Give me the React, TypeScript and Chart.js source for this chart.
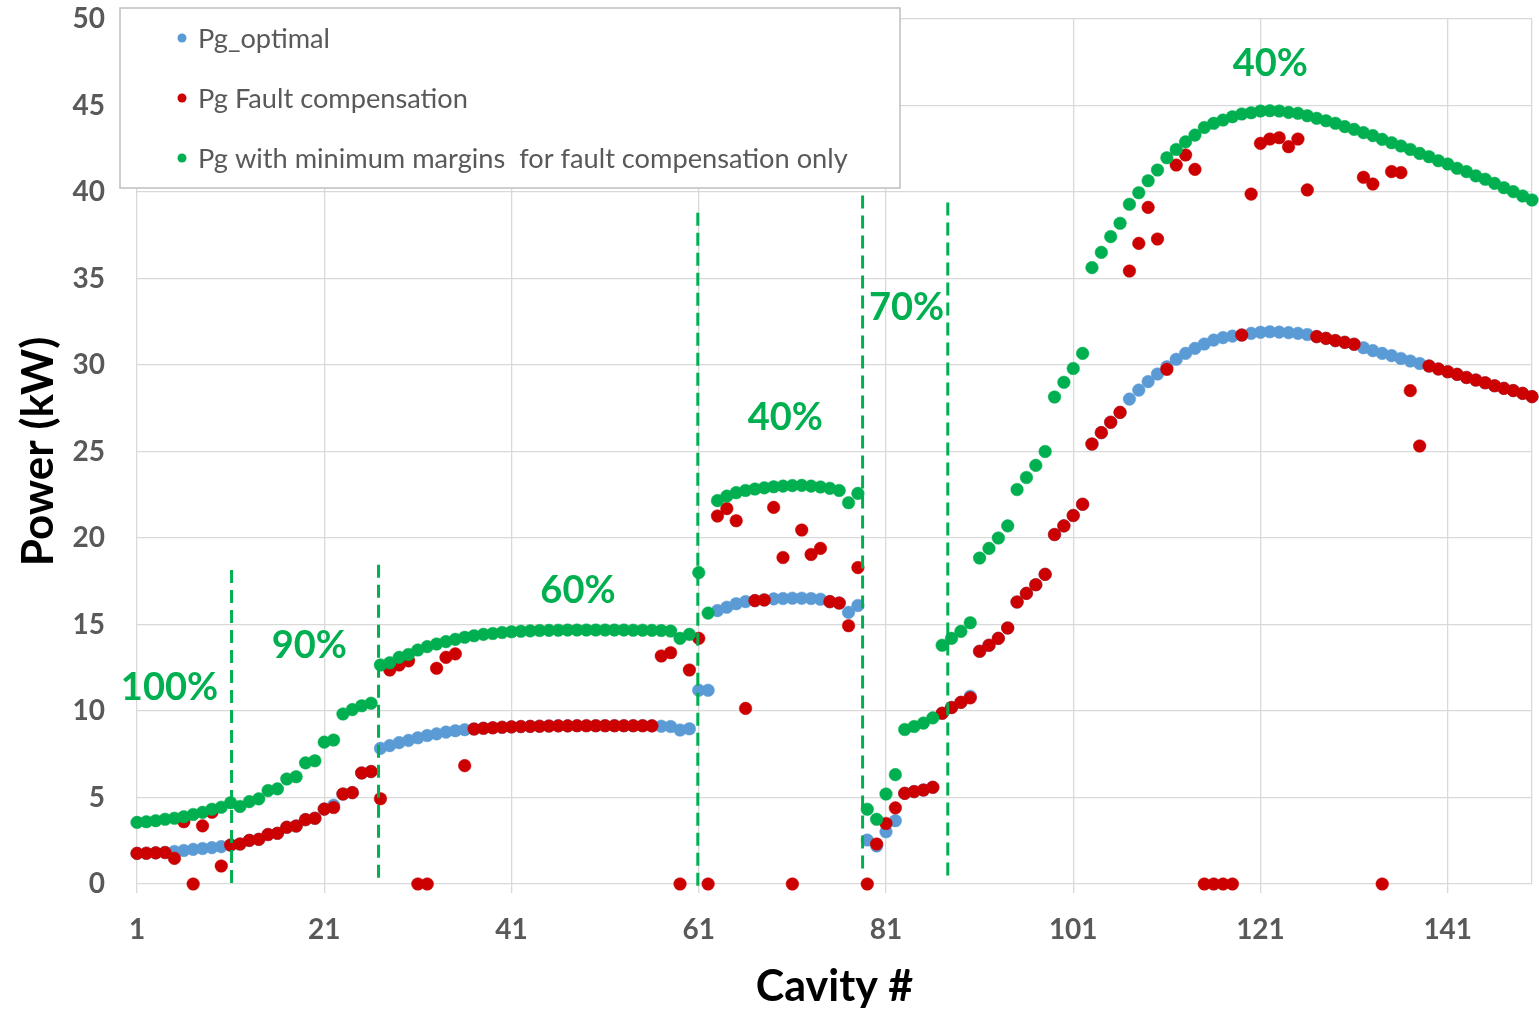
import React, { useEffect, useRef } from "react";
import { Chart, registerables } from "chart.js";

Chart.register(...registerables);

// ---------------- data ----------------
const CAVITY: number[] = Array.from({ length: 150 }, (_, i) => i + 1);

const X_TICKS = [1, 21, 41, 61, 81, 101, 121, 141, 150];

const PG_OPTIMAL = [
  1.77, 1.78, 1.8, 1.82, 1.88, 1.94, 2.0, 2.05, 2.1, 2.16,
  2.25, 2.31, 2.52, 2.58, 2.86, 2.93, 3.28, 3.35, 3.72, 3.8,
  4.33, 4.55, 5.2, 5.28, 6.42, 6.5, 7.84, 8.0, 8.17, 8.3,
  8.45, 8.58, 8.68, 8.78, 8.86, 8.92, 8.96, 9.0, 9.03, 9.06,
  9.08, 9.1, 9.11, 9.12, 9.13, 9.14, 9.14, 9.15, 9.15, 9.15,
  9.15, 9.15, 9.15, 9.15, 9.15, 9.14, 9.12, 9.1, 8.9, 8.97,
  11.2, 11.2, 15.8, 16.0, 16.2, 16.32, 16.38, 16.42, 16.48, 16.5,
  16.52, 16.52, 16.5, 16.46, 16.32, 16.24, 15.7, 16.1, 2.54, 2.2,
  3.02, 3.66, 5.24, 5.34, 5.43, 5.59, 9.87, 10.2, 10.5, 10.85,
  13.45, 13.8, 14.2, 14.8, 16.3, 16.8, 17.3, 17.9, 20.2, 20.7,
  21.3, 21.95, 25.43, 26.09, 26.69, 27.26, 28.03, 28.55, 29.04, 29.48,
  29.9, 30.33, 30.67, 30.96, 31.21, 31.44, 31.58, 31.67, 31.73, 31.83,
  31.89, 31.92, 31.9, 31.87, 31.83, 31.76, 31.64, 31.54, 31.41, 31.31,
  31.2, 31.0, 30.83, 30.67, 30.54, 30.38, 30.23, 30.09, 29.94, 29.77,
  29.61, 29.46, 29.28, 29.13, 28.97, 28.8, 28.65, 28.52, 28.36, 28.17,
];

const PG_FAULT = [
  1.77, 1.78, 1.8, 1.82, 1.48, 3.6, 0, 3.36, 4.15, 1.04,
  2.25, 2.31, 2.52, 2.58, 2.86, 2.93, 3.28, 3.35, 3.72, 3.8,
  4.33, 4.42, 5.2, 5.28, 6.42, 6.5, 4.93, 12.37, 12.66, 12.9,
  0, 0, 12.47, 13.1, 13.3, 6.84, 8.96, 9.0, 9.03, 9.06,
  9.08, 9.1, 9.11, 9.12, 9.13, 9.14, 9.14, 9.15, 9.15, 9.15,
  9.15, 9.15, 9.15, 9.15, 9.15, 9.14, 13.18, 13.37, 0, 12.37,
  14.2, 0, 21.27, 21.7, 21.0, 10.15, 16.38, 16.42, 21.77, 18.87,
  0, 20.46, 19.05, 19.4, 16.32, 16.24, 14.93, 18.29, 0, 2.31,
  3.5, 4.4, 5.24, 5.34, 5.43, 5.59, 9.87, 10.2, 10.5, 10.76,
  13.45, 13.8, 14.2, 14.8, 16.3, 16.8, 17.3, 17.9, 20.2, 20.7,
  21.3, 21.95, 25.43, 26.09, 26.69, 27.26, 35.43, 37.03, 39.11, 37.28,
  29.75, 41.56, 42.14, 41.31, 0, 0, 0, 0, 31.73, 39.88,
  42.81, 43.06, 43.14, 42.62, 43.06, 40.12, 31.64, 31.54, 31.41, 31.31,
  31.2, 40.85, 40.46, 0, 41.18, 41.12, 28.52, 25.32, 29.94, 29.77,
  29.61, 29.46, 29.28, 29.13, 28.97, 28.8, 28.65, 28.52, 28.36, 28.17,
];

const PG_MARGIN = [
  3.56, 3.6, 3.66, 3.74, 3.8, 3.89, 4.02, 4.14, 4.32, 4.44,
  4.7, 4.48, 4.76, 4.92, 5.4, 5.5, 6.07, 6.2, 7.0, 7.12,
  8.2, 8.32, 9.83, 10.08, 10.3, 10.45, 12.66, 12.79, 13.1, 13.27,
  13.53, 13.72, 13.87, 14.01, 14.14, 14.26, 14.35, 14.43, 14.48, 14.54,
  14.58, 14.61, 14.63, 14.65, 14.66, 14.67, 14.68, 14.68, 14.68, 14.68,
  14.68, 14.68, 14.68, 14.67, 14.67, 14.66, 14.65, 14.62, 14.2, 14.43,
  18.0, 15.66, 22.16, 22.42, 22.62, 22.75, 22.83, 22.9, 22.96, 23.0,
  23.03, 23.04, 23.0, 22.95, 22.87, 22.75, 22.04, 22.58, 4.32, 3.74,
  5.2, 6.32, 8.93, 9.1, 9.3, 9.6, 13.8, 14.2, 14.6, 15.1,
  18.84, 19.4, 20.0, 20.7, 22.8, 23.5, 24.2, 25.0, 28.15, 29.0,
  29.8, 30.67, 35.63, 36.51, 37.42, 38.19, 39.29, 39.96, 40.65, 41.27,
  41.98, 42.46, 42.9, 43.29, 43.73, 43.97, 44.16, 44.35, 44.51, 44.58,
  44.68, 44.7, 44.68, 44.6, 44.55, 44.41, 44.26, 44.12, 43.97, 43.78,
  43.62, 43.43, 43.26, 43.04, 42.85, 42.66, 42.46, 42.23, 42.04, 41.81,
  41.62, 41.37, 41.18, 40.93, 40.74, 40.5, 40.25, 40.02, 39.77, 39.54,
];

const SERIES_NAMES = [
  "Pg_optimal",
  "Pg Fault compensation",
  "Pg with minimum margins  for fault compensation only",
];

// section dividers (cavity position, top / bottom in kW)
const DIVIDER_X = [11.1, 26.8, 60.9, 78.5, 87.6];
const DIVIDER_TOP = [18.15, 18.45, 38.8, 39.8, 39.4];
const DIVIDER_BOTTOM = [-0.35, 0, -0.5, 0.5, 0.35];

// section labels
const ZONE_TEXT = ["100%", "90%", "60%", "40%", "70%", "40%"];
const ZONE_X = [4.47, 19.4, 48.1, 70.25, 83.2, 122.05];
const ZONE_Y = [11.33, 13.8, 16.94, 26.94, 33.3, 47.4];

// ---------------- style ----------------
const BLUE = "#5B9BD5";
const RED = "#CC0000";
const GREEN = "#00B050";
const GRID = "#D9D9D9";
const FONT = "Lato, 'Open Sans', 'DejaVu Sans', sans-serif";

const W = 1539;
const H = 1010;

const overlayPlugin = {
  id: "overlay",
  afterDatasetsDraw(chart: any) {
    const { ctx } = chart;
    const xs = chart.scales.x;
    const ys = chart.scales.y;
    ctx.save();

    // dashed dividers
    ctx.strokeStyle = GREEN;
    ctx.lineWidth = 3;
    ctx.setLineDash([13, 7]);
    DIVIDER_X.forEach((dx, i) => {
      const px = xs.getPixelForValue(dx);
      ctx.beginPath();
      ctx.moveTo(px, ys.getPixelForValue(DIVIDER_TOP[i]));
      ctx.lineTo(px, ys.getPixelForValue(DIVIDER_BOTTOM[i]));
      ctx.stroke();
    });
    ctx.setLineDash([]);

    // zone labels
    ctx.fillStyle = GREEN;
    ctx.font = `bold 38px ${FONT}`;
    ctx.textAlign = "center";
    ctx.textBaseline = "middle";
    ZONE_TEXT.forEach((t, i) => {
      ctx.fillText(t, xs.getPixelForValue(ZONE_X[i]), ys.getPixelForValue(ZONE_Y[i]));
    });

    // legend box
    const bx = 120, by = 8, bw = 780, bh = 180;
    ctx.fillStyle = "#FFFFFF";
    ctx.fillRect(bx, by, bw, bh);
    ctx.strokeStyle = "#BFBFBF";
    ctx.lineWidth = 1.5;
    ctx.strokeRect(bx, by, bw, bh);

    let fs = 24;
    ctx.font = `${fs}px ${FONT}`;
    const wLong = ctx.measureText(SERIES_NAMES[2]).width;
    fs = (fs * 650) / wLong;
    ctx.font = `${fs}px ${FONT}`;
    ctx.textAlign = "left";
    ctx.textBaseline = "middle";
    const colors = [BLUE, RED, GREEN];
    const rows = [38, 98, 158];
    SERIES_NAMES.forEach((name, i) => {
      ctx.fillStyle = colors[i];
      ctx.beginPath();
      ctx.arc(182, rows[i], 4.5, 0, Math.PI * 2);
      ctx.fill();
      ctx.fillStyle = "#595959";
      ctx.fillText(name, 198, rows[i] + 1);
    });

    ctx.restore();
  },
};

function points(values: number[]) {
  return CAVITY.map((c, i) => ({ x: c, y: values[i] }));
}

export default function App() {
  const ref = useRef<HTMLCanvasElement>(null);

  useEffect(() => {
    document.body.style.margin = "0";
    const canvas = ref.current;
    if (!canvas) return;
    const mk = (data: number[], color: string, order: number, label: string) => ({
      label,
      data: points(data),
      backgroundColor: color,
      borderColor: color,
      borderWidth: 0.5,
      pointRadius: 6.3,
      pointHoverRadius: 6.3,
      showLine: false,
      clip: false as any,
      order,
    });
    const chart = new Chart(canvas, {
      type: "scatter",
      data: {
        datasets: [
          mk(PG_OPTIMAL, BLUE, 3, SERIES_NAMES[0]),
          mk(PG_FAULT, RED, 2, SERIES_NAMES[1]),
          mk(PG_MARGIN, GREEN, 1, SERIES_NAMES[2]),
        ],
      },
      options: {
        animation: false,
        responsive: true,
        maintainAspectRatio: false,
        layout: { padding: { left: 0, right: 7, top: 19, bottom: 0 } },
        plugins: {
          legend: { display: false },
          tooltip: { enabled: false },
        },
        scales: {
          x: {
            type: "linear",
            min: 1,
            max: 150,
            afterBuildTicks: (s: any) => {
              s.ticks = X_TICKS.map((v) => ({ value: v }));
            },
            afterFit: (s: any) => {
              s.height = 126;
              s.paddingLeft = 0;
              s.paddingRight = 0;
            },
            border: { display: false },
            grid: {
              color: GRID,
              lineWidth: 1.3,
              drawTicks: true,
              tickLength: 9,
              tickColor: (c: any) => (c.tick && c.tick.value === 150 ? "rgba(0,0,0,0)" : GRID),
            },
            ticks: {
              autoSkip: false,
              maxRotation: 0,
              padding: 20,
              color: "#595959",
              font: { family: FONT, size: 28, weight: "bold" },
              callback: (v: any) => (v === 150 ? "" : String(v)),
            },
            title: {
              display: true,
              text: "Cavity #",
              color: "#000000",
              font: { family: FONT, size: 43, weight: "bold", lineHeight: 1.05 },
              padding: { top: 0, bottom: 0 },
            },
          },
          y: {
            type: "linear",
            min: 0,
            max: 50,
            afterFit: (s: any) => {
              s.width = 137;
              s.paddingTop = 0;
              s.paddingBottom = 0;
            },
            border: { display: false },
            grid: { color: GRID, lineWidth: 1.3, drawTicks: false },
            ticks: {
              stepSize: 5,
              padding: 32,
              color: "#595959",
              font: { family: FONT, size: 28, weight: "bold" },
            },
            title: {
              display: true,
              text: "Power (kW)",
              color: "#000000",
              font: { family: FONT, size: 44, weight: "bold" },
              padding: { top: 12, bottom: 0 },
            },
          },
        },
      } as any,
      plugins: [overlayPlugin],
    });
    return () => chart.destroy();
  }, []);

  return (
    <div
      style={{
        position: "fixed",
        left: 0,
        top: 0,
        width: W,
        height: H,
        background: "#FFFFFF",
      }}
    >
      <canvas ref={ref} />
    </div>
  );
}
